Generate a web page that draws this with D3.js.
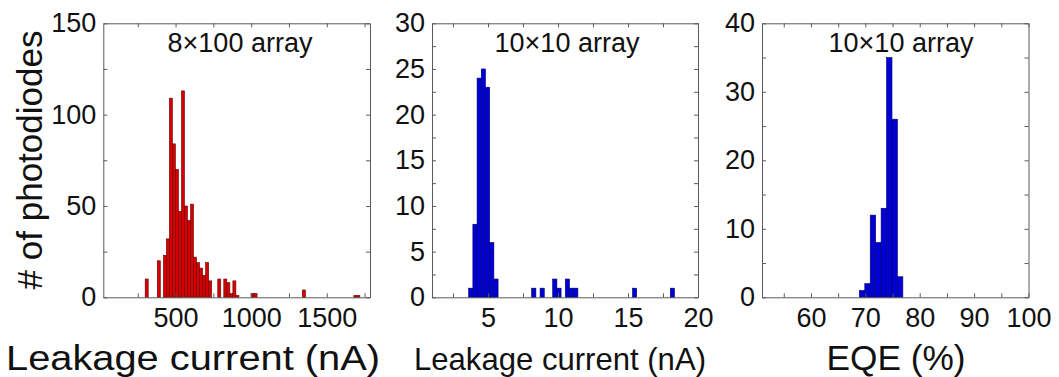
<!DOCTYPE html>
<html lang="en">
<head>
<meta charset="UTF-8">
<title>Photodiode histograms</title>
<script src="https://cdn.jsdelivr.net/npm/d3@7"></script>
<style>
  body { margin: 0; background: #fff; }
  svg { display: block; font-family: "Liberation Sans", Arial, sans-serif; }
  .axis path, .axis line { stroke: #5a5a5a; stroke-width: 1; }
  .axis text { fill: #111; font-size: 27px; }
  .title { font-size: 27px; fill: #111; }
  .xlabel { fill: #111; }
</style>
</head>
<body>
<svg id="chart" width="1059" height="377"></svg>
<script>
// panel 1: 8x100 array, leakage current (nA), bin width 20
const leakBigCenters = [309, 389, 429, 449, 469, 489, 509, 529, 549, 569, 589, 609, 629, 649, 669, 689, 709, 729,
                        789, 829, 849, 869, 889, 909, 1009, 1029, 1349, 1689, 1709];
const leakBigCounts  = [10, 20, 23, 32, 109, 84, 70, 47, 113, 50, 42, 51, 22, 19, 16, 12, 19, 9,
                        10, 10, 8, 2, 9, 1, 2, 2, 4, 1, 1];
const leakBigTicks = [250, 500, 750, 1000, 1250, 1500, 1750];
const leakBigLabels = [500, 1000, 1500];
const countBigTicks = [0, 25, 50, 75, 100, 125, 150];
const countBigLabels = [0, 50, 100, 150];

// panel 2: 10x10 array, leakage current (nA), bin width 0.3
const leakSmallCenters = [3.77, 4.07, 4.37, 4.67, 4.97, 5.27, 5.57, 8.27, 8.87, 9.77, 10.07, 10.67, 10.97, 11.27, 15.47, 18.17];
const leakSmallCounts  = [1, 8, 24, 25, 23, 6, 2, 1, 1, 2, 1, 2, 1, 1, 1, 1];
const leakSmallTicks = [2.5, 5, 7.5, 10, 12.5, 15, 17.5, 20];
const leakSmallLabels = [5, 10, 15, 20];
const countSmallTicks = [0, 2.5, 5, 7.5, 10, 12.5, 15, 17.5, 20, 22.5, 25, 27.5, 30];
const countSmallLabels = [0, 5, 10, 15, 20, 25, 30];

// panel 3: 10x10 array, EQE (%), bin width 1
const eqeCenters = [69.4, 70.4, 71.4, 72.4, 73.4, 74.4, 75.4, 76.4];
const eqeCounts  = [1, 2, 12, 8, 13, 35, 26, 3];
const eqeTicks = [55, 60, 65, 70, 75, 80, 85, 90, 95, 100];
const eqeLabels = [60, 70, 80, 90, 100];
const countEqeTicks = [0, 5, 10, 15, 20, 25, 30, 35, 40];
const countEqeLabels = [0, 10, 20, 30, 40];

const svg = d3.select("#chart");
const plotTop = 23.3, plotBottom = 297.3;

const panels = [
  { left: 103.3, right: 370, xDomain: [22, 1786], yMax: 150, binW: 20,
    centers: leakBigCenters, counts: leakBigCounts,
    xTicks: leakBigTicks, xLabels: leakBigLabels, yTicks: countBigTicks, yLabels: countBigLabels,
    fill: "#d40000", edge: "#6a0000", title: "8×100 array", titleX: 240,
    xlabel: "Leakage current (nA)", xlabelX: 193, xlabelSize: 35, xlabelLen: 374 },
  { left: 432, right: 698, xDomain: [1, 20], yMax: 30, binW: 0.3,
    centers: leakSmallCenters, counts: leakSmallCounts,
    xTicks: leakSmallTicks, xLabels: leakSmallLabels, yTicks: countSmallTicks, yLabels: countSmallLabels,
    fill: "#0000d2", edge: "#00006a", title: "10×10 array", titleX: 567,
    xlabel: "Leakage current (nA)", xlabelX: 560, xlabelSize: 31.5, xlabelLen: 292 },
  { left: 762, right: 1028.5, xDomain: [51, 100], yMax: 40, binW: 1,
    centers: eqeCenters, counts: eqeCounts,
    xTicks: eqeTicks, xLabels: eqeLabels, yTicks: countEqeTicks, yLabels: countEqeLabels,
    fill: "#0000d2", edge: "#00006a", title: "10×10 array", titleX: 901,
    xlabel: "EQE (%)", xlabelX: 896, xlabelSize: 35, xlabelLen: 139 }
];

panels.forEach(p => {
  const x = d3.scaleLinear().domain(p.xDomain).range([p.left, p.right]);
  const y = d3.scaleLinear().domain([0, p.yMax]).range([plotBottom, plotTop]);
  const g = svg.append("g");

  // bars
  g.selectAll("rect")
    .data(p.centers.map((c, i) => ({ c: c, n: p.counts[i] })))
    .join("rect")
    .attr("x", d => x(d.c - p.binW / 2))
    .attr("width", d => x(d.c + p.binW / 2) - x(d.c - p.binW / 2))
    .attr("y", d => y(d.n))
    .attr("height", d => y(0) - y(d.n))
    .attr("fill", p.fill)
    .attr("stroke", p.edge)
    .attr("stroke-width", 0.6);

  const xFmt = v => p.xLabels.includes(v) ? String(v) : "";
  const yFmt = v => p.yLabels.includes(v) ? String(v) : "";

  // ticks point inwards, box drawn from the four domain lines
  g.append("g").attr("class", "axis")
    .attr("transform", `translate(0,${plotBottom})`)
    .call(d3.axisBottom(x).tickValues(p.xTicks).tickFormat(xFmt).tickSize(-4).tickSizeOuter(0).tickPadding(11));
  g.append("g").attr("class", "axis")
    .attr("transform", `translate(0,${plotTop})`)
    .call(d3.axisTop(x).tickValues(p.xTicks).tickFormat("").tickSize(-4).tickSizeOuter(0));
  g.append("g").attr("class", "axis")
    .attr("transform", `translate(${p.left},0)`)
    .call(d3.axisLeft(y).tickValues(p.yTicks).tickFormat(yFmt).tickSize(-4).tickSizeOuter(0).tickPadding(7));
  g.append("g").attr("class", "axis")
    .attr("transform", `translate(${p.right},0)`)
    .call(d3.axisRight(y).tickValues(p.yTicks).tickFormat("").tickSize(-4).tickSizeOuter(0));

  g.selectAll(".axis text").attr("font-family", null).attr("font-size", null);

  g.append("text").attr("class", "title")
    .attr("x", p.titleX).attr("y", 52)
    .attr("text-anchor", "middle")
    .text(p.title);

  g.append("text").attr("class", "xlabel")
    .attr("x", p.xlabelX).attr("y", 369.5)
    .attr("text-anchor", "middle")
    .attr("textLength", p.xlabelLen)
    .attr("lengthAdjust", "spacingAndGlyphs")
    .style("font-size", p.xlabelSize + "px")
    .text(p.xlabel);
});

svg.append("text")
  .attr("transform", "translate(42,160) rotate(-90)")
  .attr("text-anchor", "middle")
  .style("font-size", "35px")
  .attr("fill", "#111")
  .text("# of photodiodes");
</script>
</body>
</html>
